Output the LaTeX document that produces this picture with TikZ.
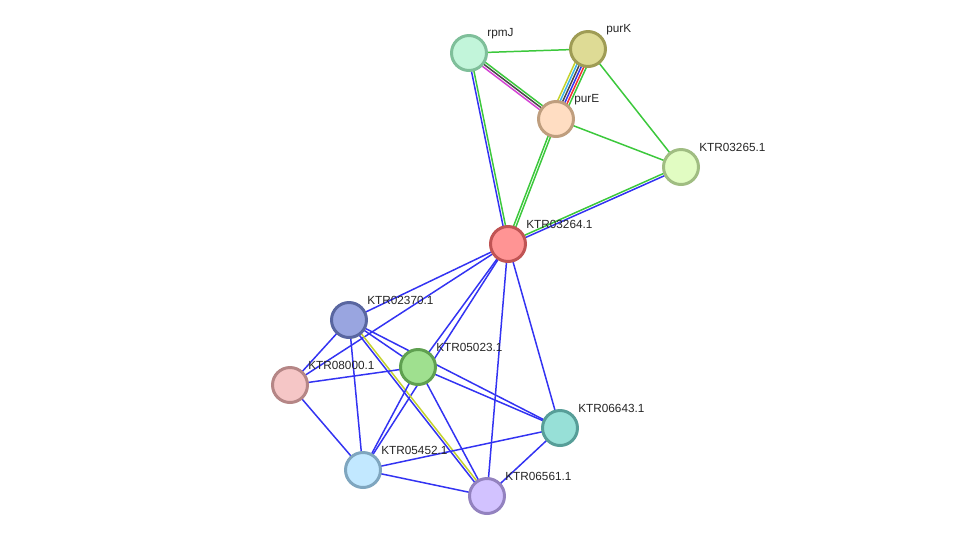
\documentclass[tikz,border=0pt]{standalone}
\usepackage{fontspec}
\setmainfont{Liberation Sans}
\usetikzlibrary{calc,backgrounds}

\definecolor{eblue}{HTML}{3333F2}
\definecolor{egreen}{HTML}{3CC83C}
\definecolor{eyellow}{HTML}{C4D22C}
\definecolor{ecyan}{HTML}{3AB4E8}
\definecolor{edark}{HTML}{484848}
\definecolor{ered}{HTML}{F03232}
\definecolor{emagenta}{HTML}{D443D4}

\definecolor{frpmJ}{HTML}{C2F5DA}\definecolor{drpmJ}{HTML}{7FBF9A}
\definecolor{fpurK}{HTML}{DEDB95}\definecolor{dpurK}{HTML}{9F9C55}
\definecolor{fpurE}{HTML}{FFDDC2}\definecolor{dpurE}{HTML}{BF9E7E}
\definecolor{fk3265}{HTML}{E1FCC2}\definecolor{dk3265}{HTML}{A0BD82}
\definecolor{fk3264}{HTML}{FF9494}\definecolor{dk3264}{HTML}{C05454}
\definecolor{fk2370}{HTML}{99A5E0}\definecolor{dk2370}{HTML}{5966A0}
\definecolor{fk5023}{HTML}{9FE08F}\definecolor{dk5023}{HTML}{5FA050}
\definecolor{fk8000}{HTML}{F5C6C6}\definecolor{dk8000}{HTML}{B58686}
\definecolor{fk6643}{HTML}{97E0D7}\definecolor{dk6643}{HTML}{579E98}
\definecolor{fk5452}{HTML}{C2E8FF}\definecolor{dk5452}{HTML}{7FA6BF}
\definecolor{fk6561}{HTML}{D2C2FF}\definecolor{dk6561}{HTML}{9382BF}

% one line of an edge, shifted sideways by #4
\newcommand{\pedge}[4]{\draw[#3] ($(#1.center)!#4!90:(#2.center)$) -- ($(#2.center)!#4!-90:(#1.center)$);}

\begin{document}
\begin{tikzpicture}[x=0.02cm,y=-0.02cm,
    prot/.style={circle,line width=1.7pt,minimum size=0.7cm,inner sep=0pt,fill=f#1,draw=d#1},
    lab/.style={anchor=west,inner sep=0pt,xshift=-0.02cm,yshift=0.39cm,text=black!85,font=\fontsize{6.7}{8}\selectfont},
    link/.style={line width=0.85pt}]
\useasboundingbox (0,0) rectangle (975,542);

\node[prot=rpmJ,label={[lab]0:rpmJ}](rpmJ) at (469,53) {};
\node[prot=purK,label={[lab]0:purK}](purK) at (588,49) {};
\node[prot=purE,label={[lab]0:purE}](purE) at (556,119) {};
\node[prot=k3265,label={[lab]0:KTR03265.1}](k3265) at (681,167) {};
\node[prot=k3264,label={[lab]0:KTR03264.1}](k3264) at (508,244) {};
\node[prot=k2370,label={[lab]0:KTR02370.1}](k2370) at (349,320) {};
\node[prot=k5023,label={[lab]0:KTR05023.1}](k5023) at (418,367) {};
\node[prot=k8000,label={[lab]0:KTR08000.1}](k8000) at (290,385) {};
\node[prot=k6643,label={[lab]0:KTR06643.1}](k6643) at (560,428) {};
\node[prot=k5452,label={[lab]0:KTR05452.1}](k5452) at (363,470) {};
\node[prot=k6561,label={[lab]0:KTR06561.1}](k6561) at (487,496) {};

\begin{pgfonlayer}{background}
% top cluster
\pedge{rpmJ}{purK}{link,egreen}{0pt}
\pedge{rpmJ}{purE}{link,emagenta}{-1.4pt}
\pedge{rpmJ}{purE}{link,edark}{0pt}
\pedge{rpmJ}{purE}{link,egreen}{1.4pt}
\pedge{purK}{purE}{link,eyellow}{-3.5pt}
\pedge{purK}{purE}{link,ecyan}{-2.1pt}
\pedge{purK}{purE}{link,edark}{-0.7pt}
\pedge{purK}{purE}{link,eblue}{0.7pt}
\pedge{purK}{purE}{link,ered}{2.1pt}
\pedge{purK}{purE}{link,egreen}{3.5pt}
\pedge{purK}{k3265}{link,egreen}{0pt}
\pedge{purE}{k3265}{link,egreen}{0pt}
\pedge{rpmJ}{k3264}{link,eblue}{-0.7pt}
\pedge{rpmJ}{k3264}{link,egreen}{0.7pt}
\pedge{purE}{k3264}{link,egreen}{-0.7pt}
\pedge{purE}{k3264}{link,egreen}{0.7pt}
\pedge{k3265}{k3264}{link,egreen}{-0.7pt}
\pedge{k3265}{k3264}{link,eblue}{0.7pt}
% lower cluster
\pedge{k3264}{k2370}{link,eblue}{0pt}
\pedge{k3264}{k8000}{link,eblue}{0pt}
\pedge{k3264}{k5023}{link,eblue}{0pt}
\pedge{k3264}{k5452}{link,eblue}{0pt}
\pedge{k3264}{k6561}{link,eblue}{0pt}
\pedge{k3264}{k6643}{link,eblue}{0pt}
\pedge{k2370}{k8000}{link,eblue}{0pt}
\pedge{k2370}{k5023}{link,eblue}{0pt}
\pedge{k2370}{k6643}{link,eblue}{0pt}
\pedge{k2370}{k5452}{link,eblue}{0pt}
\pedge{k2370}{k6561}{link,eblue}{-0.7pt}
\pedge{k2370}{k6561}{link,eyellow}{0.7pt}
\pedge{k8000}{k5023}{link,eblue}{0pt}
\pedge{k8000}{k5452}{link,eblue}{0pt}
\pedge{k5023}{k5452}{link,eblue}{0pt}
\pedge{k5023}{k6561}{link,eblue}{0pt}
\pedge{k5023}{k6643}{link,eblue}{0pt}
\pedge{k5452}{k6643}{link,eblue}{0pt}
\pedge{k5452}{k6561}{link,eblue}{0pt}
\pedge{k6643}{k6561}{link,eblue}{0pt}
\end{pgfonlayer}
\end{tikzpicture}
\end{document}
